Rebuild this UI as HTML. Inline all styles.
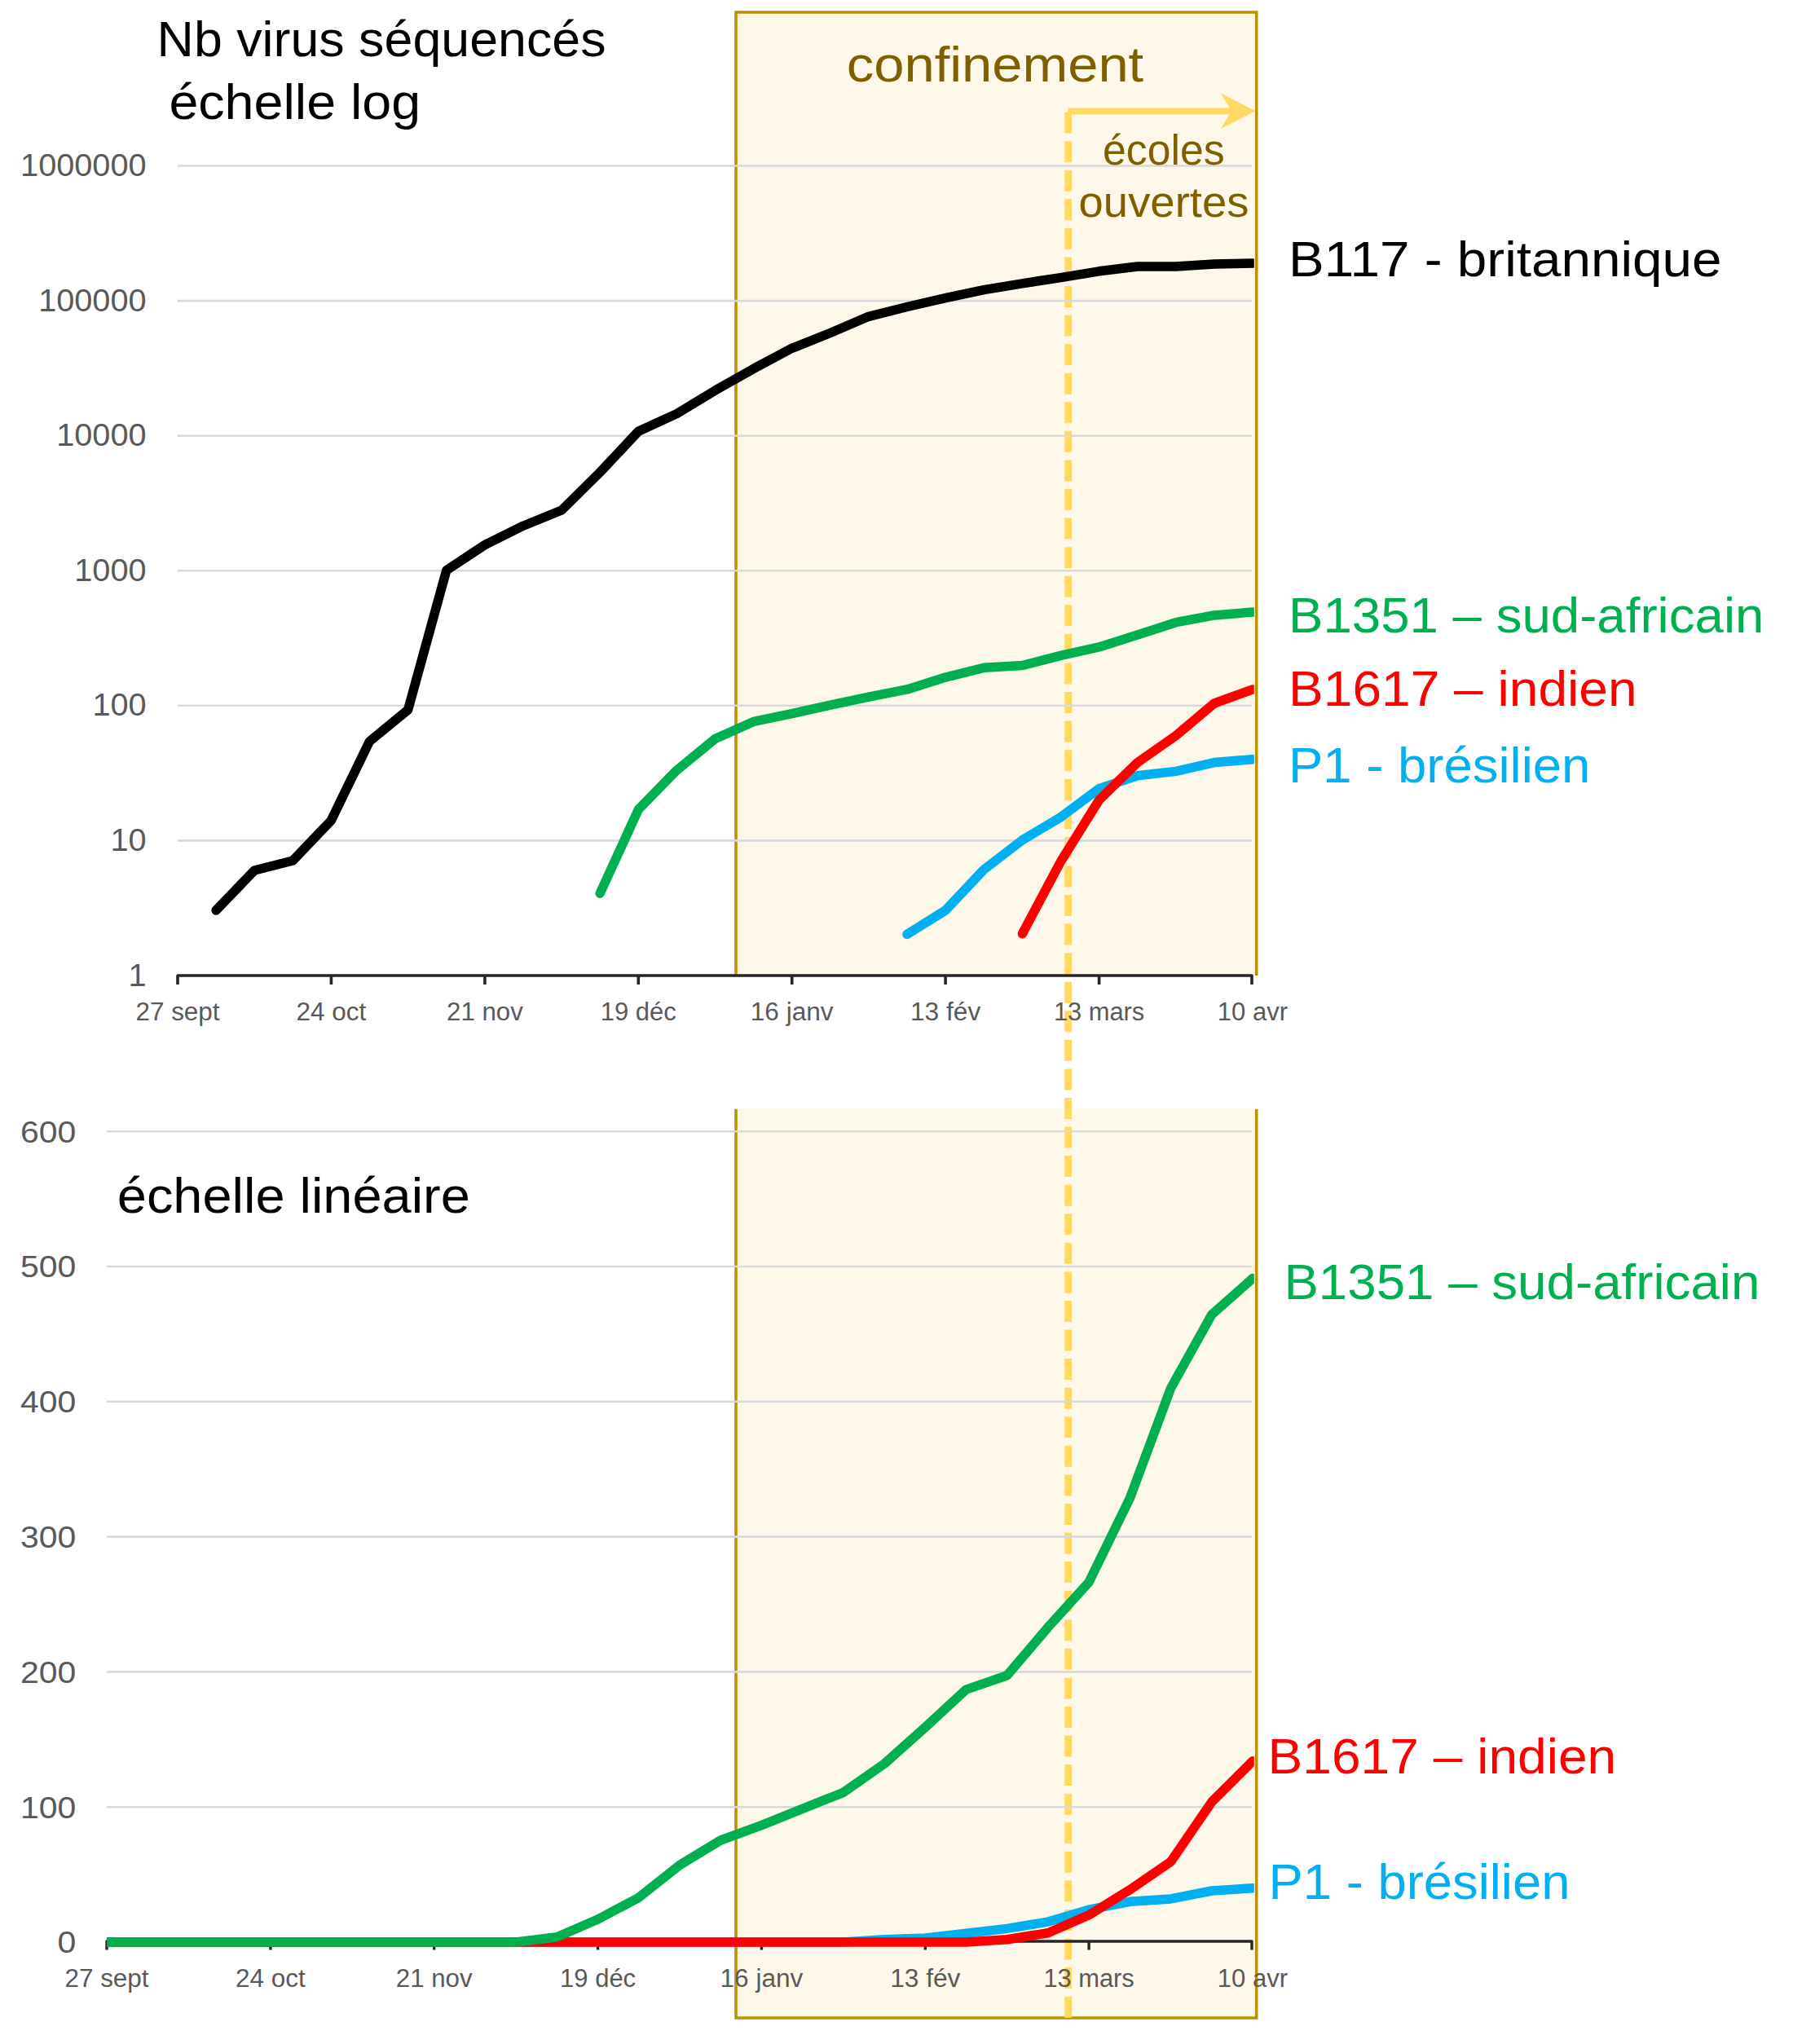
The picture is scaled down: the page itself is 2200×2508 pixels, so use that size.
<!DOCTYPE html>
<html><head><meta charset="utf-8"><title>Nb virus séquencés</title>
<style>
html,body{margin:0;padding:0;background:#fff;}
svg{display:block;}
text{font-family:"Liberation Sans",sans-serif;}
</style></head><body>
<svg width="2200" height="2508" viewBox="0 0 2200 2508">
<defs>
<clipPath id="ct"><rect x="216" y="0" width="1322.8" height="1197"/></clipPath>
<clipPath id="cb"><rect x="131" y="1300" width="1407.8" height="1100"/></clipPath>
</defs>
<rect width="2200" height="2508" fill="#fff"/>

<rect x="903" y="15" width="638.7" height="1182" fill="#FEF8EB"/>
<rect x="903" y="1360.7" width="638.7" height="1115.3" fill="#FEF8EB"/>
<path d="M903,1197 V15 H1541.7 V1197" fill="none" stroke="#BF9000" stroke-width="3.6"/>
<path d="M903,1360.7 V2476 H1541.7 V1360.7" fill="none" stroke="#BF9000" stroke-width="3.6"/>
<line x1="1310.6" y1="137.6" x2="1310.6" y2="2476" stroke="#FFD966" stroke-width="8.8" stroke-dasharray="26 9.57"/>
<line x1="1310.3" y1="136.4" x2="1515" y2="136.4" stroke="#FFD966" stroke-width="8"/>
<polygon points="1497.8,114.3 1540.7,136.2 1497.8,158 1511,136.2" fill="#FFD966"/>
<line x1="218" y1="1031.4" x2="1536" y2="1031.4" stroke="#D9D9D9" stroke-width="2.6"/>
<line x1="218" y1="865.8" x2="1536" y2="865.8" stroke="#D9D9D9" stroke-width="2.6"/>
<line x1="218" y1="700.3" x2="1536" y2="700.3" stroke="#D9D9D9" stroke-width="2.6"/>
<line x1="218" y1="534.7" x2="1536" y2="534.7" stroke="#D9D9D9" stroke-width="2.6"/>
<line x1="218" y1="369.1" x2="1536" y2="369.1" stroke="#D9D9D9" stroke-width="2.6"/>
<line x1="218" y1="203.5" x2="1536" y2="203.5" stroke="#D9D9D9" stroke-width="2.6"/>
<line x1="131" y1="2217.2" x2="1536" y2="2217.2" stroke="#D9D9D9" stroke-width="2.6"/>
<line x1="131" y1="2051.4" x2="1536" y2="2051.4" stroke="#D9D9D9" stroke-width="2.6"/>
<line x1="131" y1="1885.6" x2="1536" y2="1885.6" stroke="#D9D9D9" stroke-width="2.6"/>
<line x1="131" y1="1719.8" x2="1536" y2="1719.8" stroke="#D9D9D9" stroke-width="2.6"/>
<line x1="131" y1="1554.0" x2="1536" y2="1554.0" stroke="#D9D9D9" stroke-width="2.6"/>
<line x1="131" y1="1388.2" x2="1536" y2="1388.2" stroke="#D9D9D9" stroke-width="2.6"/>
<path d="M218,1208 V1197 H1536 V1208" fill="none" stroke="#262626" stroke-width="3.6" stroke-linejoin="round"/>
<line x1="406.4" y1="1197" x2="406.4" y2="1208" stroke="#262626" stroke-width="3.6"/>
<line x1="594.9" y1="1197" x2="594.9" y2="1208" stroke="#262626" stroke-width="3.6"/>
<line x1="783.3" y1="1197" x2="783.3" y2="1208" stroke="#262626" stroke-width="3.6"/>
<line x1="971.7" y1="1197" x2="971.7" y2="1208" stroke="#262626" stroke-width="3.6"/>
<line x1="1160.1" y1="1197" x2="1160.1" y2="1208" stroke="#262626" stroke-width="3.6"/>
<line x1="1348.6" y1="1197" x2="1348.6" y2="1208" stroke="#262626" stroke-width="3.6"/>
<path d="M131,2392.5 V2382 H1536 V2392.5" fill="none" stroke="#262626" stroke-width="3.4" stroke-linejoin="round"/>
<line x1="331.9" y1="2382" x2="331.9" y2="2392.5" stroke="#262626" stroke-width="3.4"/>
<line x1="532.7" y1="2382" x2="532.7" y2="2392.5" stroke="#262626" stroke-width="3.4"/>
<line x1="733.6" y1="2382" x2="733.6" y2="2392.5" stroke="#262626" stroke-width="3.4"/>
<line x1="934.4" y1="2382" x2="934.4" y2="2392.5" stroke="#262626" stroke-width="3.4"/>
<line x1="1135.3" y1="2382" x2="1135.3" y2="2392.5" stroke="#262626" stroke-width="3.4"/>
<line x1="1336.1" y1="2382" x2="1336.1" y2="2392.5" stroke="#262626" stroke-width="3.4"/>
<text x="179.6" y="1209.6" font-size="39.7" fill="#595959" text-anchor="end">1</text>
<text x="179.6" y="1044.0" font-size="39.7" fill="#595959" text-anchor="end">10</text>
<text x="179.6" y="878.4" font-size="39.7" fill="#595959" text-anchor="end">100</text>
<text x="179.6" y="712.9" font-size="39.7" fill="#595959" text-anchor="end">1000</text>
<text x="179.6" y="547.3" font-size="39.7" fill="#595959" text-anchor="end">10000</text>
<text x="179.6" y="381.7" font-size="39.7" fill="#595959" text-anchor="end">100000</text>
<text x="179.6" y="216.1" font-size="39.7" fill="#595959" text-anchor="end">1000000</text>
<text x="93.2" y="2396.3" font-size="37.8" fill="#595959" text-anchor="end" textLength="22.8" lengthAdjust="spacingAndGlyphs">0</text>
<text x="93.2" y="2230.5" font-size="37.8" fill="#595959" text-anchor="end" textLength="68.3" lengthAdjust="spacingAndGlyphs">100</text>
<text x="93.2" y="2064.7" font-size="37.8" fill="#595959" text-anchor="end" textLength="68.3" lengthAdjust="spacingAndGlyphs">200</text>
<text x="93.2" y="1898.9" font-size="37.8" fill="#595959" text-anchor="end" textLength="68.3" lengthAdjust="spacingAndGlyphs">300</text>
<text x="93.2" y="1733.1" font-size="37.8" fill="#595959" text-anchor="end" textLength="68.3" lengthAdjust="spacingAndGlyphs">400</text>
<text x="93.2" y="1567.3" font-size="37.8" fill="#595959" text-anchor="end" textLength="68.3" lengthAdjust="spacingAndGlyphs">500</text>
<text x="93.2" y="1401.5" font-size="37.8" fill="#595959" text-anchor="end" textLength="68.3" lengthAdjust="spacingAndGlyphs">600</text>
<text x="218.0" y="1252" font-size="31" fill="#595959" text-anchor="middle" textLength="103" lengthAdjust="spacingAndGlyphs">27 sept</text>
<text x="131.0" y="2438.3" font-size="31" fill="#595959" text-anchor="middle" textLength="103" lengthAdjust="spacingAndGlyphs">27 sept</text>
<text x="406.4" y="1252" font-size="31" fill="#595959" text-anchor="middle" textLength="85.6" lengthAdjust="spacingAndGlyphs">24 oct</text>
<text x="331.9" y="2438.3" font-size="31" fill="#595959" text-anchor="middle" textLength="85.6" lengthAdjust="spacingAndGlyphs">24 oct</text>
<text x="594.9" y="1252" font-size="31" fill="#595959" text-anchor="middle" textLength="93.7" lengthAdjust="spacingAndGlyphs">21 nov</text>
<text x="532.7" y="2438.3" font-size="31" fill="#595959" text-anchor="middle" textLength="93.7" lengthAdjust="spacingAndGlyphs">21 nov</text>
<text x="783.3" y="1252" font-size="31" fill="#595959" text-anchor="middle" textLength="93" lengthAdjust="spacingAndGlyphs">19 déc</text>
<text x="733.6" y="2438.3" font-size="31" fill="#595959" text-anchor="middle" textLength="93" lengthAdjust="spacingAndGlyphs">19 déc</text>
<text x="971.7" y="1252" font-size="31" fill="#595959" text-anchor="middle" textLength="101.8" lengthAdjust="spacingAndGlyphs">16 janv</text>
<text x="934.4" y="2438.3" font-size="31" fill="#595959" text-anchor="middle" textLength="101.8" lengthAdjust="spacingAndGlyphs">16 janv</text>
<text x="1160.1" y="1252" font-size="31" fill="#595959" text-anchor="middle" textLength="86.3" lengthAdjust="spacingAndGlyphs">13 fév</text>
<text x="1135.3" y="2438.3" font-size="31" fill="#595959" text-anchor="middle" textLength="86.3" lengthAdjust="spacingAndGlyphs">13 fév</text>
<text x="1348.6" y="1252" font-size="31" fill="#595959" text-anchor="middle" textLength="111.4" lengthAdjust="spacingAndGlyphs">13 mars</text>
<text x="1336.1" y="2438.3" font-size="31" fill="#595959" text-anchor="middle" textLength="111.4" lengthAdjust="spacingAndGlyphs">13 mars</text>
<text x="1537.0" y="1252" font-size="31" fill="#595959" text-anchor="middle" textLength="86.3" lengthAdjust="spacingAndGlyphs">10 avr</text>
<text x="1537.0" y="2438.3" font-size="31" fill="#595959" text-anchor="middle" textLength="86.3" lengthAdjust="spacingAndGlyphs">10 avr</text>
<g clip-path="url(#ct)" fill="none" stroke-linejoin="round" stroke-linecap="round" stroke-width="11.5">
<polyline points="1113.0,1146.4 1160.1,1117.0 1207.2,1067.0 1254.4,1030.7 1301.5,1002.7 1348.6,967.6 1395.7,951.7 1442.8,946.4 1489.9,935.6 1537.0,931.7" stroke="#00B0F0"/>
<polyline points="1254.4,1145.7 1301.5,1057.1 1348.6,981.6 1395.7,935.6 1442.8,902.6 1489.9,863.0 1537.0,845.9" stroke="#FF0000"/>
<polyline points="736.2,1096.2 783.3,993.3 830.4,945.1 877.5,906.5 924.6,885.4 971.7,875.6 1018.8,865.1 1065.9,855.2 1113.0,845.9 1160.1,831.1 1207.2,819.3 1254.4,816.5 1301.5,804.4 1348.6,793.9 1395.7,779.1 1442.8,763.7 1489.9,754.9 1537.0,751.0" stroke="#00B050"/>
<polyline points="265.1,1117.0 312.2,1068.0 359.3,1056.0 406.4,1006.6 453.5,909.6 500.6,871.0 547.8,699.7 594.9,668.6 642.0,645.2 689.1,626.0 736.2,579.5 783.3,529.3 830.4,507.6 877.5,479.1 924.6,452.4 971.7,427.3 1018.8,408.5 1065.9,388.3 1113.0,376.5 1160.1,365.6 1207.2,355.6 1254.4,347.8 1301.5,340.6 1348.6,332.8 1395.7,327.0 1442.8,327.0 1489.9,324.0 1537.0,323.0" stroke="#000"/>
</g>
<g clip-path="url(#cb)" fill="none" stroke-linejoin="round" stroke-linecap="round" stroke-width="11.5">
<polyline points="131.0,2383.0 181.2,2383.0 231.4,2383.0 281.6,2383.0 331.9,2383.0 382.1,2383.0 432.3,2383.0 482.5,2383.0 532.7,2383.0 582.9,2383.0 633.1,2383.0 683.4,2383.0 733.6,2383.0 783.8,2383.0 834.0,2383.0 884.2,2383.0 934.4,2383.0 984.6,2383.0 1034.9,2383.0 1085.1,2379.7 1135.3,2378.0 1185.5,2372.2 1235.7,2366.4 1285.9,2358.1 1336.1,2343.2 1386.4,2333.3 1436.6,2329.9 1486.8,2320.0 1537.0,2316.7" stroke="#00B0F0"/>
<polyline points="131.0,2383.0 181.2,2383.0 231.4,2383.0 281.6,2383.0 331.9,2383.0 382.1,2383.0 432.3,2383.0 482.5,2383.0 532.7,2383.0 582.9,2383.0 633.1,2383.0 683.4,2383.0 733.6,2383.0 783.8,2383.0 834.0,2383.0 884.2,2383.0 934.4,2383.0 984.6,2383.0 1034.9,2383.0 1085.1,2383.0 1135.3,2383.0 1185.5,2383.0 1235.7,2379.7 1285.9,2371.7 1336.1,2349.8 1386.4,2318.7 1436.6,2284.3 1486.8,2210.9 1537.0,2160.8" stroke="#FF0000"/>
<polyline points="131.0,2383.0 181.2,2383.0 231.4,2383.0 281.6,2383.0 331.9,2383.0 382.1,2383.0 432.3,2383.0 482.5,2383.0 532.7,2383.0 582.9,2383.0 633.1,2383.0 683.4,2376.7 733.6,2355.0 783.8,2328.3 834.0,2288.5 884.2,2258.0 934.4,2239.6 984.6,2219.4 1034.9,2199.3 1085.1,2164.1 1135.3,2119.4 1185.5,2073.1 1235.7,2055.7 1285.9,1996.7 1336.1,1941.3 1386.4,1838.3 1436.6,1703.2 1486.8,1613.0 1537.0,1568.6" stroke="#00B050"/>
</g>
<text x="192.6" y="69.2" font-size="62" fill="#000" textLength="551.0" lengthAdjust="spacingAndGlyphs">Nb virus séquencés</text>
<text x="207.4" y="145.9" font-size="62" fill="#000" textLength="308.8" lengthAdjust="spacingAndGlyphs">échelle log</text>
<text x="1038.8" y="99.6" font-size="62" fill="#7F6000" textLength="364.4" lengthAdjust="spacingAndGlyphs">confinement</text>
<text x="1353" y="201.6" font-size="51" fill="#7F6000" textLength="149.6" lengthAdjust="spacingAndGlyphs">écoles</text>
<text x="1323.6" y="265.6" font-size="51" fill="#7F6000" textLength="208.8" lengthAdjust="spacingAndGlyphs">ouvertes</text>
<text x="1581" y="339.2" font-size="62" fill="#000" textLength="531.6" lengthAdjust="spacingAndGlyphs">B117 - britannique</text>
<text x="1581" y="775.5" font-size="62" fill="#00B050" textLength="583.4" lengthAdjust="spacingAndGlyphs">B1351 – sud-africain</text>
<text x="1581" y="866.4" font-size="62" fill="#FF0000" textLength="427.6" lengthAdjust="spacingAndGlyphs">B1617 – indien</text>
<text x="1581" y="959.5" font-size="62" fill="#00B0F0" textLength="370.4" lengthAdjust="spacingAndGlyphs">P1 - brésilien</text>
<text x="143.8" y="1488.2" font-size="62" fill="#000" textLength="433.0" lengthAdjust="spacingAndGlyphs">échelle linéaire</text>
<text x="1575.4" y="1594.4" font-size="62" fill="#00B050" textLength="584.0" lengthAdjust="spacingAndGlyphs">B1351 – sud-africain</text>
<text x="1555.6" y="2175.5" font-size="62" fill="#FF0000" textLength="427.6" lengthAdjust="spacingAndGlyphs">B1617 – indien</text>
<text x="1556.6" y="2330" font-size="62" fill="#00B0F0" textLength="369.8" lengthAdjust="spacingAndGlyphs">P1 - brésilien</text>
</svg></body></html>
